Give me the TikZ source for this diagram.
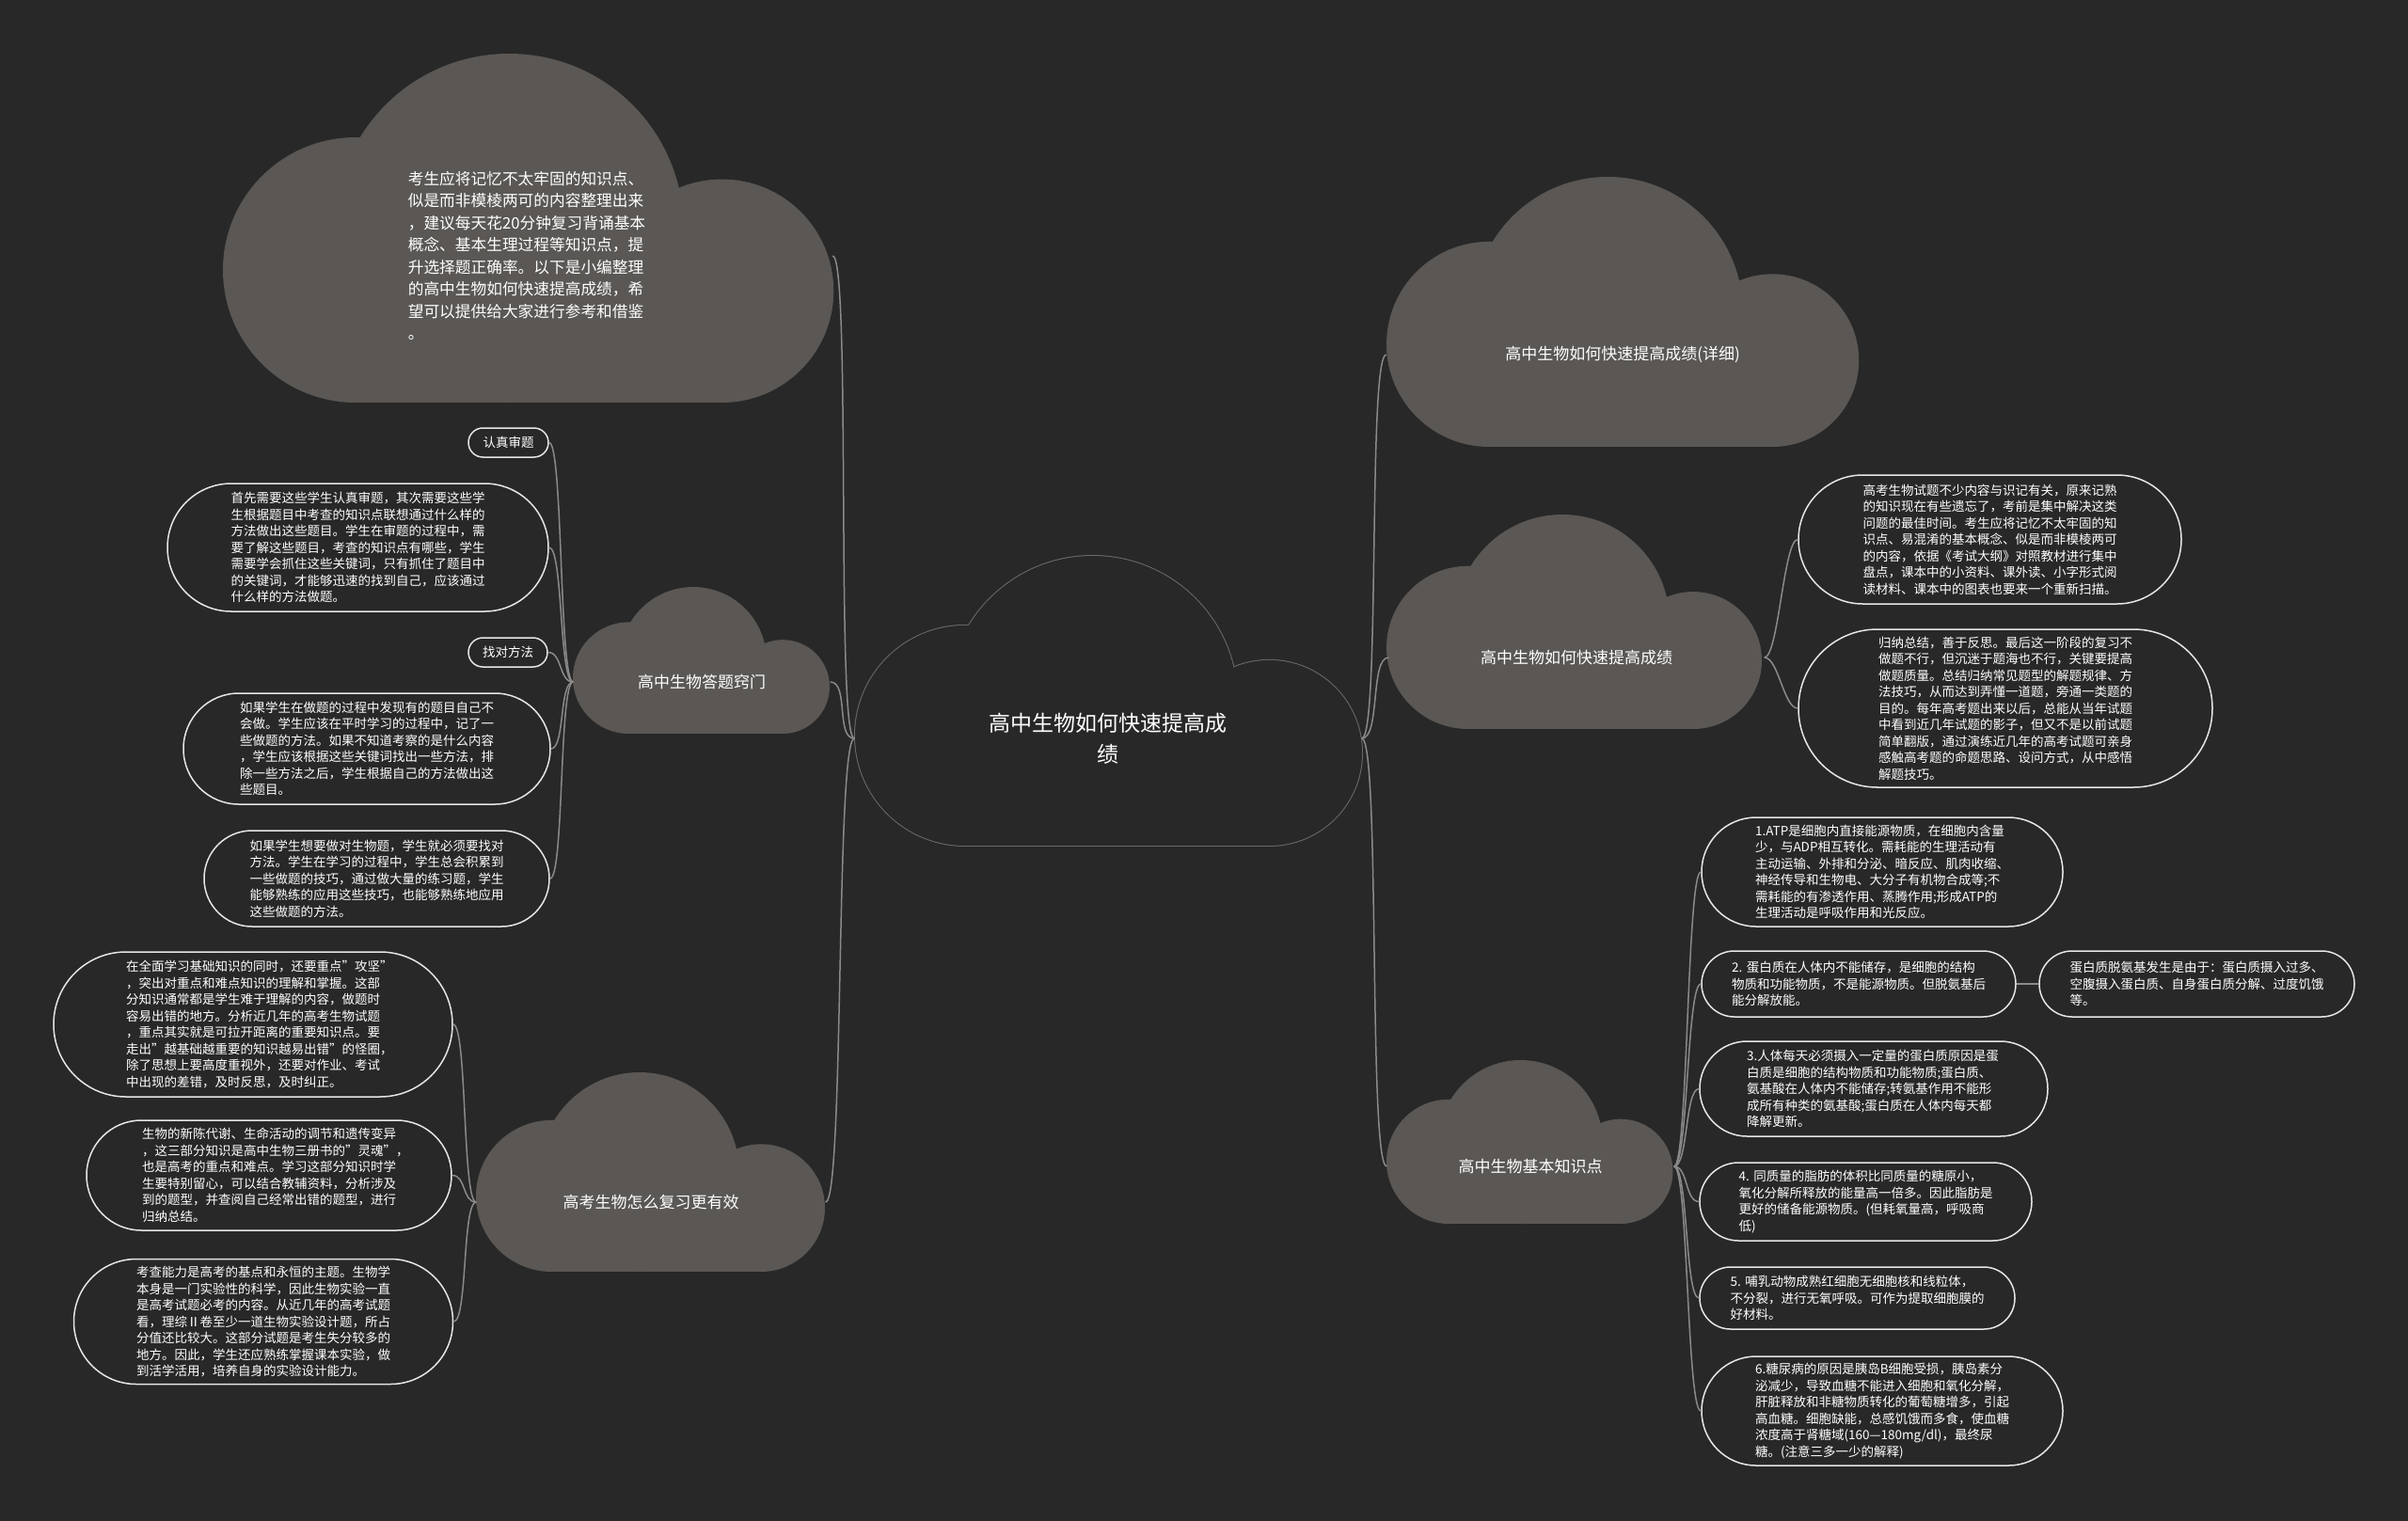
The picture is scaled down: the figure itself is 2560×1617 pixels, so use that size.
\documentclass[tikz,border=0pt]{standalone}
\usepackage{fontspec}
\setmainfont{Noto Sans CJK SC}
\definecolor{bgdark}{HTML}{282828}
\definecolor{cloudgray}{HTML}{5A5754}
\definecolor{centerline}{HTML}{6A6A6A}
\definecolor{linkgray}{HTML}{8A8A8A}
\definecolor{pillline}{HTML}{E6E6E6}
% cloud outline: x, y (top left), height, path options
\newcommand{\drawcloud}[4]{%
  \begin{scope}[shift={(#1,#2)},scale=#3,every path/.style={#4}]
    \path (0.82,0.5) ellipse [x radius=0.5,y radius=0.5];
    \path (0.38,0.62) circle [radius=0.38];
    \path (1.43,0.68) circle [radius=0.32];
    \path (0.38,0.5) rectangle (1.43,1);
  \end{scope}}
\tikzset{
  cloudtext/.style={inner sep=0pt, text=white, align=center, font=\fontsize{17}{22}\selectfont},
  pill/.style={rectangle, draw=pillline, line width=1.5pt, fill=bgdark, text=white,
    text width=270pt, align=left, inner xsep=0pt, inner ysep=0pt, font=\fontsize{13.5}{17.5}\selectfont},
  tag/.style={rectangle, draw=pillline, line width=1.5pt, fill=bgdark, text=white, align=center,
    inner xsep=0pt, inner ysep=0pt, minimum height=31pt, rounded corners=15.4pt, font=\fontsize{13.5}{17.5}\selectfont},
  link/.style={draw=linkgray, line width=1.5pt},
}
\begin{document}
\begin{tikzpicture}[x=1pt,y=-1pt]
    % background
    \fill[bgdark] (0,0) rectangle (2560,1617);
    \useasboundingbox (0,0) rectangle (2560,1617);
    % clouds
    \drawcloud{237}{57}{371}{fill=cloudgray}
    \drawcloud{1474}{188}{287}{fill=cloudgray}
    \drawcloud{1474}{547}{228}{fill=cloudgray}
    \drawcloud{1474}{1127}{174}{fill=cloudgray}
    \drawcloud{609}{624}{156}{fill=cloudgray}
    \drawcloud{506}{1140}{212}{fill=cloudgray}
    \drawcloud{909}{591}{308}{draw=centerline, line width=2pt}
    \drawcloud{909}{591}{308}{fill=bgdark}
    % cloud labels
    \node[cloudtext, font=\fontsize{23}{33}\selectfont, minimum width=539pt] (center) at (1178,785) {高中生物如何快速提高成\\绩};
    \node[cloudtext, align=left, font=\fontsize{16.7}{23.5}\selectfont, minimum width=650pt] (intro) at (560,272) {考生应将记忆不太牢固的知识点、\\似是而非模棱两可的内容整理出来\\，建议每天花20分钟复习背诵基本\\概念、基本生理过程等知识点，提\\升选择题正确率。以下是小编整理\\的高中生物如何快速提高成绩，希\\望可以提供给大家进行参考和借鉴\\。};
    \node[cloudtext, minimum width=502pt] (detail) at (1725,377) {高中生物如何快速提高成绩(详细)};
    \node[cloudtext, minimum width=399pt] (fast) at (1676,699) {高中生物如何快速提高成绩};
    \node[cloudtext, minimum width=305pt] (basic) at (1627,1240) {高中生物基本知识点};
    \node[cloudtext, minimum width=273pt] (tips) at (746,725) {高中生物答题窍门};
    \node[cloudtext, minimum width=371pt] (review) at (692,1278) {高考生物怎么复习更有效};
    % left: answering tips
    \node[tag, minimum width=85pt] (tag1) at (540.5,470.5) {认真审题};
    \node[pill, minimum width=405pt, minimum height=136pt, rounded corners=67.9pt] (tip1) at (380.5,582) {首先需要这些学生认真审题，其次需要这些学\\生根据题目中考查的知识点联想通过什么样的\\方法做出这些题目。学生在审题的过程中，需\\要了解这些题目，考查的知识点有哪些，学生\\需要学会抓住这些关键词，只有抓住了题目中\\的关键词，才能够迅速的找到自己，应该通过\\什么样的方法做题。};
    \node[tag, minimum width=84pt] (tag2) at (540,693.5) {找对方法};
    \node[pill, minimum width=390pt, minimum height=118pt, rounded corners=58.9pt] (tip2) at (390,796) {如果学生在做题的过程中发现有的题目自己不\\会做。学生应该在平时学习的过程中，记了一\\些做题的方法。如果不知道考察的是什么内容\\，学生应该根据这些关键词找出一些方法，排\\除一些方法之后，学生根据自己的方法做出这\\些题目。};
    \node[pill, minimum width=367pt, minimum height=102pt, rounded corners=50.9pt] (tip3) at (400.5,934) {如果学生想要做对生物题，学生就必须要找对\\方法。学生在学习的过程中，学生总会积累到\\一些做题的技巧，通过做大量的练习题，学生\\能够熟练的应用这些技巧，也能够熟练地应用\\这些做题的方法。};
    % left: review
    \node[pill, minimum width=424pt, minimum height=154pt, rounded corners=76.9pt] (rev1) at (269,1089) {在全面学习基础知识的同时，还要重点"攻坚"\\，突出对重点和难点知识的理解和掌握。这部\\分知识通常都是学生难于理解的内容，做题时\\容易出错的地方。分析近几年的高考生物试题\\，重点其实就是可拉开距离的重要知识点。要\\走出"越基础越重要的知识越易出错"的怪圈，\\除了思想上要高度重视外，还要对作业、考试\\中出现的差错，及时反思，及时纠正。};
    \node[pill, minimum width=388pt, minimum height=117pt, rounded corners=58.4pt] (rev2) at (286,1249.5) {生物的新陈代谢、生命活动的调节和遗传变异\\，这三部分知识是高中生物三册书的"灵魂"，\\也是高考的重点和难点。学习这部分知识时学\\生要特别留心，可以结合教辅资料，分析涉及\\到的题型，并查阅自己经常出错的题型，进行\\归纳总结。};
    \node[pill, minimum width=403pt, minimum height=133pt, rounded corners=66.4pt] (rev3) at (280,1405) {考查能力是高考的基点和永恒的主题。生物学\\本身是一门实验性的科学，因此生物实验一直\\是高考试题必考的内容。从近几年的高考试题\\看，理综Ⅱ卷至少一道生物实验设计题，所占\\分值还比较大。这部分试题是考生失分较多的\\地方。因此，学生还应熟练掌握课本实验，做\\到活学活用，培养自身的实验设计能力。};
    % right: fast
    \node[pill, minimum width=407pt, minimum height=137pt, rounded corners=68.4pt] (fast1) at (2115.5,573.5) {高考生物试题不少内容与识记有关，原来记熟\\的知识现在有些遗忘了，考前是集中解决这类\\问题的最佳时间。考生应将记忆不太牢固的知\\识点、易混淆的基本概念、似是而非模棱两可\\的内容，依据《考试大纲》对照教材进行集中\\盘点，课本中的小资料、课外读、小字形式阅\\读材料、课本中的图表也要来一个重新扫描。};
    \node[pill, minimum width=440pt, minimum height=168pt, rounded corners=83.9pt] (fast2) at (2132,753) {归纳总结，善于反思。最后这一阶段的复习不\\做题不行，但沉迷于题海也不行，关键要提高\\做题质量。总结归纳常见题型的解题规律、方\\法技巧，从而达到弄懂一道题，旁通一类题的\\目的。每年高考题出来以后，总能从当年试题\\中看到近几年试题的影子，但又不是以前试题\\简单翻版，通过演练近几年的高考试题可亲身\\感触高考题的命题思路、设问方式，从中感悟\\解题技巧。};
    % right: basic knowledge
    \node[pill, minimum width=384pt, minimum height=116pt, rounded corners=57.9pt] (b1) at (2001,927) {1.ATP是细胞内直接能源物质，在细胞内含量\\少，与ADP相互转化。需耗能的生理活动有\\主动运输、外排和分泌、暗反应、肌肉收缩、\\神经传导和生物电、大分子有机物合成等;不\\需耗能的有渗透作用、蒸腾作用;形成ATP的\\生理活动是呼吸作用和光反应。};
    \node[pill, minimum width=334pt, minimum height=70pt, rounded corners=34.9pt] (b2) at (1976,1046) {2.~蛋白质在人体内不能储存，是细胞的结构\\物质和功能物质，不是能源物质。但脱氨基后\\能分解放能。};
    \node[pill, minimum width=335pt, minimum height=70pt, rounded corners=34.9pt] (b2side) at (2335.5,1046) {蛋白质脱氨基发生是由于：蛋白质摄入过多、\\空腹摄入蛋白质、自身蛋白质分解、过度饥饿\\等。};
    \node[pill, minimum width=370pt, minimum height=101pt, rounded corners=50.4pt] (b3) at (1992,1157.5) {3.人体每天必须摄入一定量的蛋白质原因是蛋\\白质是细胞的结构物质和功能物质;蛋白质、\\氨基酸在人体内不能储存;转氨基作用不能形\\成所有种类的氨基酸;蛋白质在人体内每天都\\降解更新。};
    \node[pill, minimum width=353pt, minimum height=83pt, rounded corners=41.4pt] (b4) at (1983.5,1277.5) {4.~同质量的脂肪的体积比同质量的糖原小，\\氧化分解所释放的能量高一倍多。因此脂肪是\\更好的储备能源物质。(但耗氧量高，呼吸商\\低)};
    \node[pill, minimum width=335pt, minimum height=66pt, rounded corners=32.9pt] (b5) at (1974.5,1380) {5.~哺乳动物成熟红细胞无细胞核和线粒体，\\不分裂，进行无氧呼吸。可作为提取细胞膜的\\好材料。};
    \node[pill, minimum width=384pt, minimum height=116pt, rounded corners=57.9pt] (b6) at (2001,1500) {6.糖尿病的原因是胰岛B细胞受损，胰岛素分\\泌减少，导致血糖不能进入细胞和氧化分解，\\肝脏释放和非糖物质转化的葡萄糖增多，引起\\高血糖。细胞缺能，总感饥饿而多食，使血糖\\浓度高于肾糖域(160—180mg/dl)，最终尿\\糖。(注意三多一少的解释)};
    % links from the center
    \draw[link] (center.west) .. controls +(-20,0) and +(20,0) .. (intro.east);
    \draw[link] (center.west) .. controls +(-20,0) and +(20,0) .. (tips.east);
    \draw[link] (center.west) .. controls +(-20,0) and +(20,0) .. (review.east);
    \draw[link] (center.east) .. controls +(20,0) and +(-20,0) .. (detail.west);
    \draw[link] (center.east) .. controls +(20,0) and +(-20,0) .. (fast.west);
    \draw[link] (center.east) .. controls +(20,0) and +(-20,0) .. (basic.west);
    % links to the boxes
    \draw[link] (tips.west) .. controls +(-15,0) and +(15,0) .. (tag1.east);
    \draw[link] (tips.west) .. controls +(-15,0) and +(15,0) .. (tip1.east);
    \draw[link] (tips.west) .. controls +(-15,0) and +(15,0) .. (tag2.east);
    \draw[link] (tips.west) .. controls +(-15,0) and +(15,0) .. (tip2.east);
    \draw[link] (tips.west) .. controls +(-15,0) and +(15,0) .. (tip3.east);
    \draw[link] (review.west) .. controls +(-15,0) and +(15,0) .. (rev1.east);
    \draw[link] (review.west) .. controls +(-15,0) and +(15,0) .. (rev2.east);
    \draw[link] (review.west) .. controls +(-15,0) and +(15,0) .. (rev3.east);
    \draw[link] (fast.east) .. controls +(15,0) and +(-15,0) .. (fast1.west);
    \draw[link] (fast.east) .. controls +(15,0) and +(-15,0) .. (fast2.west);
    \draw[link] (basic.east) .. controls +(15,0) and +(-15,0) .. (b1.west);
    \draw[link] (basic.east) .. controls +(15,0) and +(-15,0) .. (b2.west);
    \draw[link] (basic.east) .. controls +(15,0) and +(-15,0) .. (b3.west);
    \draw[link] (basic.east) .. controls +(15,0) and +(-15,0) .. (b4.west);
    \draw[link] (basic.east) .. controls +(15,0) and +(-15,0) .. (b5.west);
    \draw[link] (basic.east) .. controls +(15,0) and +(-15,0) .. (b6.west);
    \draw[link] (b2.east) -- (b2side.west);
\end{tikzpicture}
\end{document}
